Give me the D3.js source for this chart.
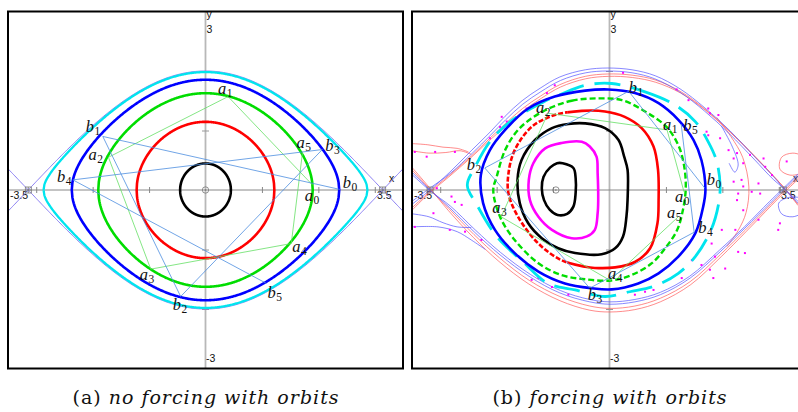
<!DOCTYPE html>
<html>
<head>
<meta charset="utf-8">
<script src="https://cdn.jsdelivr.net/npm/d3@7"></script>
<style>
  body { margin: 0; background: #fff; }
  text { font-family: "Liberation Sans", Arial, sans-serif; }
  .lbl { font-family: "Liberation Serif", "DejaVu Serif", serif; }
  .cap { font-family: "DejaVu Serif", "Liberation Serif", serif; }
</style>
</head>
<body>
<svg id="chart" width="798" height="412"></svg>
<script>
// ---------------- data ----------------
// (a) unforced pendulum: amplitudes (rad) of the closed orbits, inner to outer
const ampA = [0.45, 1.22, 1.9, 2.37, 2.87];
// (a) orbit points a0..a5 (green level) and b0..b5 (blue level)
const orbitAa = [[1.90, 0.08], [0.40, 1.57], [-1.72, 0.55], [-0.97, -1.33], [1.52, -0.90], [1.72, 0.64]];
const orbitAb = [[2.38, 0.01], [-1.82, 0.90], [-0.44, -1.79], [2.07, 0.68], [-2.35, 0.17], [1.08, -1.57]];

// (b) forced pendulum, Poincare sections (closed curves)
const innerB = [[-0.83, 0.45], [-0.64, 0.37], [-0.60, 0.20], [-0.60, -0.05], [-0.64, -0.28], [-0.75, -0.40],
  [-0.92, -0.42], [-1.06, -0.33], [-1.16, -0.17], [-1.20, 0.03], [-1.17, 0.22], [-1.05, 0.38], [-0.93, 0.45]];
const magentaB = [[-0.85, 0.79], [-0.49, 0.81], [-0.35, 0.73], [-0.23, 0.56], [-0.21, 0.28], [-0.20, -0.17],
  [-0.21, -0.39], [-0.26, -0.67], [-0.40, -0.78], [-0.67, -0.81], [-1.02, -0.67], [-1.26, -0.45],
  [-1.41, -0.17], [-1.43, 0.17], [-1.35, 0.45], [-1.14, 0.70]];
const blackB = [[-0.73, 1.11], [-0.43, 1.12], [-0.08, 1.04], [0.16, 0.84], [0.26, 0.56], [0.32, 0.34],
  [0.32, -0.17], [0.30, -0.45], [0.24, -0.78], [0.10, -0.98], [-0.14, -1.08], [-0.61, -1.06],
  [-0.91, -0.98], [-1.20, -0.81], [-1.44, -0.56], [-1.59, -0.22], [-1.63, 0.17], [-1.56, 0.50],
  [-1.32, 0.84], [-1.02, 1.04]];
const redB = [[-0.97, 1.26], [-0.49, 1.33], [-0.08, 1.32], [0.27, 1.23], [0.57, 1.04], [0.78, 0.73],
  [0.86, 0.34], [0.87, -0.17], [0.85, -0.56], [0.72, -0.98], [0.45, -1.21], [0.10, -1.30],
  [-0.26, -1.31], [-0.43, -1.29], [-0.85, -1.18], [-1.26, -0.90], [-1.62, -0.45], [-1.79, -0.06],
  [-1.79, 0.28], [-1.68, 0.67], [-1.38, 1.06]];
const greenB = [[-1.14, 1.34], [-0.67, 1.50], [-0.20, 1.54], [0.22, 1.51], [0.63, 1.32], [1.01, 1.06],
  [1.23, 0.73], [1.33, 0.36], [1.35, 0.00], [1.30, -0.34], [1.20, -0.67], [1.01, -0.95], [0.75, -1.23],
  [0.39, -1.43], [0.03, -1.52], [-0.43, -1.50], [-0.85, -1.43], [-1.26, -1.23], [-1.68, -0.84],
  [-1.94, -0.45], [-2.06, 0.00], [-2.00, 0.22], [-1.85, 0.67], [-1.59, 1.04]];
const blueB = [[-1.85, 1.01], [-1.44, 1.37], [-0.97, 1.57], [-0.43, 1.67], [-0.02, 1.69], [0.45, 1.63],
  [0.87, 1.46], [1.22, 1.18], [1.49, 0.84], [1.63, 0.50], [1.70, 0.00], [1.66, -0.28], [1.52, -0.73],
  [1.22, -1.12], [0.87, -1.40], [0.51, -1.57], [0.04, -1.67], [-0.32, -1.65], [-0.79, -1.57],
  [-1.26, -1.37], [-1.68, -1.06], [-2.03, -0.67], [-2.24, -0.22], [-2.28, 0.25], [-2.12, 0.67]];
const cyanB = [[0.04, 1.79], [0.63, 1.65], [1.16, 1.43], [1.52, 1.15], [1.75, 0.81], [1.90, 0.48],
  [1.96, 0.08], [1.93, -0.25], [1.80, -0.67], [1.52, -1.12], [1.22, -1.40], [0.81, -1.61], [0.36, -1.71],
  [-0.08, -1.79], [-0.61, -1.68], [-1.09, -1.57], [-1.53, -1.21], [-2.00, -0.78], [-2.35, -0.25],
  [-2.52, 0.08], [-2.38, 0.39], [-2.12, 0.81], [-1.76, 1.15], [-1.17, 1.48], [-0.88, 1.60], [-0.43, 1.76]];

// (b) orbit points
const orbitBa = [[1.32, -0.03], [1.02, 1.01], [-1.09, 1.29], [-1.92, -0.45], [0.01, -1.52], [1.23, -0.44]];
const orbitBb = [[1.69, 0.03], [0.34, 1.66], [-2.21, 0.37], [-0.35, -1.65], [1.50, -0.71], [1.27, 1.11]];

// (b) stable / unstable manifold strands (thin lines)
const upBlue1 = [[-3.50, -0.24], [-3.18, 0.00], [-2.83, 0.30], [-2.44, 0.67], [-2.12, 0.97], [-1.85, 1.24],
  [-1.55, 1.50], [-1.23, 1.71], [-0.88, 1.90], [-0.43, 2.02], [-0.03, 2.05], [0.40, 2.02], [0.81, 1.92],
  [1.25, 1.70], [1.69, 1.38], [2.14, 0.99], [2.58, 0.55], [2.93, 0.20], [3.11, 0.00], [3.34, -0.22]];
const upBlue2 = [[-3.50, -0.19], [-3.17, 0.04], [-2.82, 0.28], [-2.43, 0.62], [-2.11, 0.92], [-1.84, 1.18],
  [-1.54, 1.44], [-1.22, 1.65], [-0.87, 1.84], [-0.42, 1.97], [-0.03, 2.00], [0.40, 1.97], [0.80, 1.87],
  [1.24, 1.65], [1.68, 1.33], [2.12, 0.95], [2.56, 0.52], [2.90, 0.18], [3.10, 0.02], [3.34, -0.19]];
const upRed1 = [[-3.50, -0.30], [-3.19, -0.03], [-2.85, 0.24], [-2.45, 0.57], [-2.12, 0.87], [-1.84, 1.12],
  [-1.54, 1.37], [-1.22, 1.58], [-0.88, 1.77], [-0.43, 1.91], [-0.03, 1.95], [0.40, 1.93], [0.81, 1.85],
  [1.25, 1.66], [1.69, 1.36], [2.14, 0.98], [2.58, 0.56], [2.93, 0.21], [3.11, 0.02], [3.34, -0.24]];
const upRed2 = [[-3.50, -0.34], [-3.20, -0.06], [-2.86, 0.21], [-2.46, 0.54], [-2.13, 0.83], [-1.83, 1.08],
  [-1.53, 1.33], [-1.21, 1.54], [-0.87, 1.73], [-0.42, 1.87], [-0.02, 1.91], [0.41, 1.89], [0.82, 1.81],
  [1.26, 1.63], [1.70, 1.34], [2.15, 0.96], [2.59, 0.55], [2.94, 0.20], [3.12, 0.01], [3.34, -0.26]];
const loBlue1 = [[-3.50, 0.30], [-3.18, 0.00], [-2.83, -0.30], [-2.39, -0.71], [-1.94, -1.09], [-1.41, -1.46],
  [-0.88, -1.73], [-0.35, -1.88], [0.01, -1.92], [0.45, -1.88], [0.90, -1.76], [1.43, -1.48],
  [1.96, -1.04], [2.40, -0.64], [2.85, -0.22], [3.08, 0.00], [3.34, 0.24]];
const loBlue2 = [[-3.50, 0.26], [-3.17, -0.02], [-2.82, -0.27], [-2.38, -0.67], [-1.93, -1.05], [-1.40, -1.42],
  [-0.87, -1.69], [-0.35, -1.84], [0.01, -1.88], [0.45, -1.84], [0.90, -1.72], [1.42, -1.45],
  [1.95, -1.01], [2.39, -0.62], [2.83, -0.20], [3.07, 0.02], [3.34, 0.27]];
const loRed1 = [[-3.50, 0.34], [-3.19, 0.02], [-2.85, -0.31], [-2.40, -0.75], [-1.95, -1.14], [-1.42, -1.52],
  [-0.88, -1.79], [-0.35, -1.95], [0.01, -1.99], [0.45, -1.95], [0.90, -1.82], [1.43, -1.54],
  [1.97, -1.08], [2.41, -0.67], [2.86, -0.24], [3.09, -0.02], [3.34, 0.21]];
const loRed2 = [[-3.50, 0.38], [-3.20, 0.05], [-2.86, -0.34], [-2.41, -0.80], [-1.96, -1.20], [-1.43, -1.58],
  [-0.88, -1.86], [-0.35, -2.02], [0.01, -2.05], [0.45, -2.01], [0.90, -1.88], [1.44, -1.59],
  [1.98, -1.12], [2.42, -0.70], [2.87, -0.26], [3.10, -0.04], [3.34, 0.18]];
const lobeRedL1 = [[-3.50, 0.66], [-3.20, 0.62], [-2.90, 0.63], [-2.65, 0.66], [-2.45, 0.60]];
const lobeRedL2 = [[-3.50, 0.78], [-3.22, 0.76], [-2.95, 0.72], [-2.70, 0.70], [-2.50, 0.64]];
const lobeBlueL1 = [[-3.50, -0.40], [-3.20, -0.45], [-2.95, -0.55], [-2.70, -0.62], [-2.45, -0.63]];
const lobeBlueL2 = [[-3.50, -0.62], [-3.04, -0.62], [-2.70, -0.70], [-2.45, -0.84], [-2.20, -1.00]];
const lobeRedR = [[1.90, 1.22], [2.15, 0.90], [2.36, 0.55], [2.47, 0.05], [2.42, -0.38], [2.28, -0.68], [2.08, -0.95]];
const lobeBlueR = [[1.98, 1.08], [2.18, 0.72], [2.28, 0.42], [2.22, 0.30], [2.12, 0.45]];
const lobeRedFar = [[3.50, 0.55], [3.25, 0.62], [3.05, 0.55], [3.02, 0.35], [3.20, 0.25], [3.50, 0.30]];
const lobeBlueFar = [[3.50, -0.35], [3.25, -0.45], [3.05, -0.40], [3.00, -0.22], [3.20, -0.12], [3.50, -0.15]];

// (b) chaotic-layer points
const dotsB = [[-1.91, 1.23], [-1.82, 1.15], [-1.94, 1.06], [-1.88, 1.04], [-1.97, 0.98], [-1.47, 1.37],
  [-1.11, 1.63], [-0.97, 1.76], [-2.12, 0.87], [0.24, 1.97], [1.19, 1.69], [1.40, 1.51], [1.75, 1.37],
  [1.93, 1.26], [1.72, 0.98], [1.96, 0.87], [2.11, 0.67], [2.20, 0.53], [2.34, 0.17], [2.76, 0.39],
  [2.88, 0.25], [2.64, 0.11], [2.52, -0.03], [-2.74, 0.64], [-3.09, 0.64], [-3.24, 0.56], [-3.45, 0.64],
  [-2.80, -0.11], [-3.06, 0.03], [-2.74, -0.20], [-2.62, -0.25], [-2.83, -0.67], [-2.56, -0.70],
  [-2.27, -0.84], [-3.45, -0.62], [-3.12, -0.39], [-1.38, -1.51], [-1.26, -1.48], [-1.02, -1.63],
  [-0.73, -1.76], [0.45, -1.76], [0.63, -1.71], [0.78, -1.68], [1.28, -1.48], [1.46, -1.18],
  [1.87, -1.12], [2.05, -1.32], [2.23, -0.67], [2.28, -1.04], [2.40, -1.06], [2.64, -0.50], [2.99, -0.67],
  [2.28, -0.06], [1.81, -0.90], [1.99, -0.67], [1.63, -1.26], [1.78, -1.34], [1.84, -1.48], [1.78, 1.29],
  [1.75, 0.92], [2.26, 0.62], [2.49, 0.59], [2.73, 0.53], [2.37, 0.45], [2.20, 0.14], [2.37, 0.06],
  [2.26, -0.17], [2.67, -0.06], [2.37, -0.34], [3.14, 0.48], [3.02, -0.56]];

// fixed points: centre and saddles
const centreA = [0, 0], saddlesA = [[-3.14, 0], [3.14, 0]];
const centreB = [-0.95, 0], saddlesB = [[-3.18, 0], [3.08, 0]];

const xTicks = [-3, -2, -1, 1, 2, 3];
const yTicks = [-2, -1, 1, 2];
const captions = [["(a) ", "no forcing with orbits"], ["(b) ", "forcing with orbits"]];

// ---------------- styles ----------------
const colA = ["#000000", "#ff0000", "#00dd00", "#0000ff", "#00e5ee"];
const thinGreen = "#66e066", thinBlue = "#4d8ee0";

// ---------------- drawing ----------------
const svg = d3.select("#chart");
const W = 798, H = 412;
svg.append("rect").attr("width", W).attr("height", H).attr("fill", "#fff");

function makePanel(x0, x1, id) {
  const x = d3.scaleLinear().domain([-3.5, 3.5]).range([x0, x1]);
  const y = d3.scaleLinear().domain([-3, 3]).range([368.5, 11.5]);
  svg.append("clipPath").attr("id", id).append("rect")
    .attr("x", x0).attr("y", 11.5).attr("width", x1 - x0).attr("height", 357);
  const g = svg.append("g").attr("clip-path", `url(#${id})`);

  // axes through the origin
  g.append("line").attr("x1", x(0)).attr("x2", x(0)).attr("y1", y(3)).attr("y2", y(-3))
    .attr("stroke", "#b8b8b8").attr("stroke-width", 1.8);
  g.append("line").attr("x1", x(-3.5)).attr("x2", x(3.5)).attr("y1", y(0)).attr("y2", y(0))
    .attr("stroke", "#888").attr("stroke-width", 1);
  const ax = g.append("g").attr("transform", `translate(0,${y(0) - 3})`)
    .call(d3.axisBottom(x).tickValues(xTicks).tickSize(6).tickFormat(""));
  ax.select(".domain").remove();
  ax.selectAll("line").attr("stroke", "#888");
  const ay = g.append("g").attr("transform", `translate(${x(0) + 3.5},0)`)
    .call(d3.axisLeft(y).tickValues(yTicks).tickSize(7).tickFormat(""));
  ay.select(".domain").remove();
  ay.selectAll("line").attr("stroke", "#999");

  // axis labels
  const t = (tx, ty, s) => g.append("text").attr("x", tx).attr("y", ty)
    .attr("font-size", 10.5).attr("fill", "#111").text(s);
  t(x(-3.5) + 2, y(0) + 9, "-3.5");
  t(x(3.5) - 26, y(0) + 9, "3.5");
  t(x(3.5) - 14, y(0) - 8, "x");
  t(x(0) + 1, y(3) + 6, "y");
  t(x(0) + 1, y(3) + 21, "3");
  t(x(0) + 0.5, y(-3) - 7, "-3");
  return { x, y, g };
}

function frame(x0, x1) {
  svg.append("rect").attr("x", x0).attr("y", 11.5).attr("width", x1 - x0).attr("height", 357)
    .attr("fill", "none").attr("stroke", "#000").attr("stroke-width", 2);
}

function marks(P, centre, saddles) {
  P.g.append("circle").attr("cx", P.x(centre[0])).attr("cy", P.y(centre[1])).attr("r", 3.2)
    .attr("fill", "none").attr("stroke", "#777").attr("stroke-width", 0.8);
  P.g.append("circle").attr("cx", P.x(centre[0])).attr("cy", P.y(centre[1])).attr("r", 0.8).attr("fill", "#777");
  saddles.forEach(s => {
    const cx = P.x(s[0]), cy = P.y(s[1]);
    P.g.append("rect").attr("x", cx - 3).attr("y", cy - 3).attr("width", 6).attr("height", 6)
      .attr("fill", "none").attr("stroke", "#777").attr("stroke-width", 0.8);
    P.g.append("path").attr("d", `M${cx - 3},${cy}H${cx + 3}M${cx},${cy - 3}V${cy + 3}`)
      .attr("stroke", "#777").attr("stroke-width", 0.8);
  });
}

function orbitLabels(P, pts, letter, offs) {
  pts.forEach((p, i) => {
    const tx = P.x(p[0]) + offs[i][0], ty = P.y(p[1]) + offs[i][1];
    const tt = P.g.append("text").attr("class", "lbl").attr("x", tx).attr("y", ty).attr("fill", "#111");
    tt.append("tspan").attr("font-style", "italic").attr("font-size", 16.5).text(letter);
    tt.append("tspan").attr("font-size", 11.5).attr("dx", 0.5).attr("dy", 3).text(i);
  });
}

function orbitLines(P, pts, color) {
  P.g.append("path").datum(pts)
    .attr("d", d3.line().x(d => P.x(d[0])).y(d => P.y(d[1])))
    .attr("fill", "none").attr("stroke", color).attr("stroke-width", 0.8);
}

// ----- panel (a)
const A = makePanel(8, 403, "clipA");
// separatrix (H = 1)
const sepX = d3.range(-3.5, 3.5001, 0.02);
[1, -1].forEach(s => {
  A.g.append("path").datum(sepX)
    .attr("d", d3.line().x(v => A.x(v)).y(v => A.y(s * 2 * Math.cos(v / 2))))
    .attr("fill", "none").attr("stroke", "#7d6ff0").attr("stroke-width", 0.9);
});
// closed orbits of the level sets  y^2/2 - cos x = -cos(amp)
ampA.forEach((amp, i) => {
  const xs = d3.range(-amp, amp, amp / 200).concat([amp]);
  const yv = v => Math.sqrt(Math.max(0, 2 * (Math.cos(v) - Math.cos(amp))));
  const pts = xs.map(v => [v, yv(v)]).concat(xs.slice().reverse().map(v => [v, -yv(v)]));
  A.g.append("path").datum(pts)
    .attr("d", d3.line().x(d => A.x(d[0])).y(d => A.y(d[1])))
    .attr("fill", "none").attr("stroke", colA[i]).attr("stroke-width", i === 4 ? 2.3 : 2.6);
});
orbitLines(A, orbitAa, thinGreen);
orbitLines(A, orbitAb, thinBlue);
marks(A, centreA, saddlesA);
orbitLabels(A, orbitAa, "a", [[-8, 16], [-10, -3], [-20, 3], [-11, 11], [1, 8], [-6, -4]]);
orbitLabels(A, orbitAb, "b", [[3, -1], [-17, -4], [-8, 13], [3, 1], [-16, 2], [1, 15]]);
frame(8, 403);

// ----- panel (b)
const B = makePanel(412, 807, "clipB");
const thin = (pts, color) => B.g.append("path").datum(pts)
  .attr("d", d3.line().curve(d3.curveCatmullRom).x(d => B.x(d[0])).y(d => B.y(d[1])))
  .attr("fill", "none").attr("stroke", color).attr("stroke-width", 0.7);
[upRed1, upRed2, loRed1, loRed2, lobeRedL1, lobeRedL2, lobeRedR, lobeRedFar].forEach(p => thin(p, "#ff5a5a"));
[upBlue1, upBlue2, loBlue1, loBlue2, lobeBlueL1, lobeBlueL2, lobeBlueR, lobeBlueFar].forEach(p => thin(p, "#5555ff"));

B.g.selectAll("rect.dot").data(dotsB).join("rect").attr("class", "dot")
  .attr("x", d => B.x(d[0]) - 1).attr("y", d => B.y(d[1]) - 1)
  .attr("width", 2).attr("height", 2).attr("fill", "#ff00ff");

const closed = d3.line().curve(d3.curveCatmullRomClosed).x(d => B.x(d[0])).y(d => B.y(d[1]));
// the red section is sparse (dashed-looking) on its left half
const splitX = B.x(-0.75);
svg.append("clipPath").attr("id", "redL").append("rect").attr("x", 412).attr("y", 0).attr("width", splitX - 412).attr("height", H);
svg.append("clipPath").attr("id", "redR").append("rect").attr("x", splitX).attr("y", 0).attr("width", 807 - splitX).attr("height", H);

const curvesB = [
  [cyanB, "#00e5ee", 2.8, "26,11", null],
  [blueB, "#0000ff", 2.6, null, null],
  [greenB, "#00dd00", 2.4, "6,3", null],
  [redB, "#ff0000", 2.6, "5,2", "redL"],
  [redB, "#ff0000", 2.6, null, "redR"],
  [blackB, "#000000", 2.6, null, null],
  [magentaB, "#ff00ff", 2.6, null, null],
  [innerB, "#000000", 2.6, null, null]
];
curvesB.forEach(([pts, c, w, dash, clip]) => {
  const host = clip ? B.g.append("g").attr("clip-path", `url(#${clip})`) : B.g;
  host.append("path").datum(pts).attr("d", closed)
    .attr("fill", "none").attr("stroke", c).attr("stroke-width", w)
    .attr("stroke-dasharray", dash);
});
orbitLines(B, orbitBa, thinGreen);
orbitLines(B, orbitBb, thinBlue);
marks(B, centreB, saddlesB);
orbitLabels(B, orbitBa, "a", [[-9, 10], [-4, 0], [-12, 0], [-9, -4], [-2, -1.5], [-12, 2]]);
orbitLabels(B, orbitBb, "b", [[2, -3], [0, 1.5], [-18, 2], [-2, 12], [4, 1], [2, 7]]);
frame(412, 807);

// ----- captions, fitted to the width they take in the picture
const capWidth = [277, 240];
[206, 610].forEach((cx, i) => {
  const t = svg.append("text").attr("class", "cap").attr("x", cx).attr("y", 404)
    .attr("text-anchor", "middle").attr("font-size", 19).attr("fill", "#111");
  t.append("tspan").text(captions[i][0]);
  t.append("tspan").attr("font-style", "italic").text(captions[i][1]);
  const natural = t.node().getComputedTextLength();
  const n = (captions[i][0] + captions[i][1]).length;
  const ls = Math.max(-1, Math.min(1, (capWidth[i] - natural) / (n - 1)));
  t.attr("letter-spacing", ls);
});
</script>
</body>
</html>
